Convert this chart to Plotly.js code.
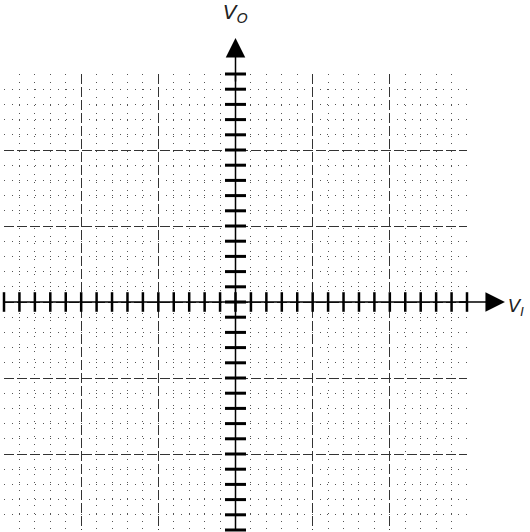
<!DOCTYPE html>
<html><head><meta charset="utf-8">
<script src="https://cdn.plot.ly/plotly-3.0.1.min.js"></script>
<style>html,body{margin:0;padding:0;background:#fff;}#chart{width:530px;height:532px;}</style>
</head><body><div id="chart"></div>
<script>
// axis extent (divisions) and tick positions
const axisRange = [-3, 3];
const tickPositions = [-3,-2.8,-2.6,-2.4,-2.2,-2,-1.8,-1.6,-1.4,-1.2,-1,-0.8,-0.6,-0.4,-0.2,0,0.2,0.4,0.6,0.8,1,1.2,1.4,1.6,1.8,2,2.2,2.4,2.6,2.8,3];
const zeros = tickPositions.map(() => 0);
const axisEnds = [-3, 3];
const axisZeros = [0, 0];
const xAxisLabel = '<i>V<sub>I</sub></i>';
const yAxisLabel = '<i>V<sub>O</sub></i>';

const traces = [
  {x: axisEnds, y: axisZeros, mode: 'lines', type: 'scatter', hoverinfo: 'skip',
   line: {color: '#000', width: 1.5}, cliponaxis: false},
  {x: axisZeros, y: axisEnds, mode: 'lines', type: 'scatter', hoverinfo: 'skip',
   line: {color: '#000', width: 1.5}, cliponaxis: false},
  {x: tickPositions, y: zeros, mode: 'markers', type: 'scatter', hoverinfo: 'skip',
   marker: {symbol: 'line-ns', size: 14, line: {color: '#000', width: 2.5}}, cliponaxis: false},
  {x: zeros, y: tickPositions, mode: 'markers', type: 'scatter', hoverinfo: 'skip',
   marker: {symbol: 'line-ew', size: 15, line: {color: '#000', width: 3}}, cliponaxis: false}
];

const axisCommon = {
  range: axisRange, dtick: 1, tick0: 0, showticklabels: false, ticks: '',
  showgrid: true, gridcolor: '#333', gridwidth: 1, griddash: '10px,3px',
  zeroline: false, showline: false, fixedrange: true,
  minor: {dtick: 0.2, showgrid: true, gridcolor: '#555', gridwidth: 1, griddash: '1px,6.7px'}
};

const layout = {
  width: 530, height: 532,
  margin: {l: 4, r: 63, t: 74, b: 2},
  paper_bgcolor: '#fff', plot_bgcolor: '#fff',
  showlegend: false,
  xaxis: Object.assign({}, axisCommon),
  yaxis: Object.assign({}, axisCommon),
  annotations: [
    {x: 1.082, y: 0.5, ax: 0.98, ay: 0.5, xref: 'paper', yref: 'paper', axref: 'paper', ayref: 'paper',
     showarrow: true, arrowhead: 2, arrowsize: 2.6, arrowwidth: 1.5, arrowcolor: '#000', text: ''},
    {x: 0.5, y: 1.079, ax: 0.5, ay: 0.98, xref: 'paper', yref: 'paper', axref: 'paper', ayref: 'paper',
     showarrow: true, arrowhead: 2, arrowsize: 2.6, arrowwidth: 1.5, arrowcolor: '#000', text: ''},
    {x: 1.084, y: 0.49, xref: 'paper', yref: 'paper', text: xAxisLabel, showarrow: false, xanchor: 'left',
     font: {family: 'DejaVu Sans', size: 18, color: '#222'}},
    {x: 0.5, y: 1.1, xref: 'paper', yref: 'paper', text: yAxisLabel, showarrow: false, yanchor: 'bottom',
     font: {family: 'DejaVu Sans', size: 20, color: '#222'}}
  ]
};

Plotly.newPlot('chart', traces, layout, {displayModeBar: false, staticPlot: true});
</script></body></html>
